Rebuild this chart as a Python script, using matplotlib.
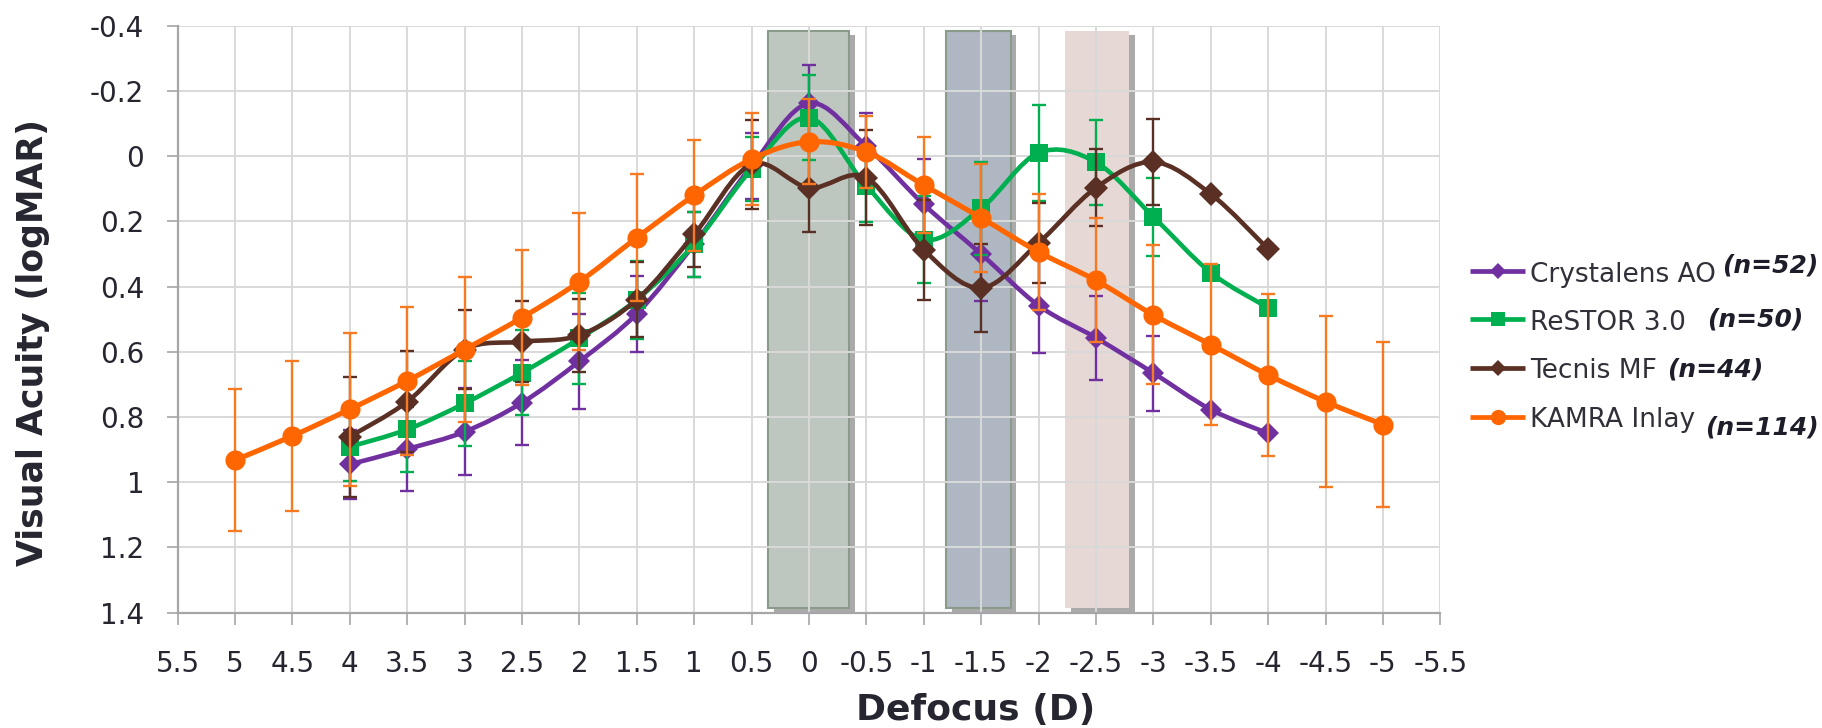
import numpy as np
import matplotlib
matplotlib.use("Agg")
import matplotlib.pyplot as plt
from matplotlib.path import Path
from matplotlib.patches import PathPatch, Rectangle
from matplotlib.lines import Line2D
import matplotlib.patheffects as pe

plt.rcParams['font.family'] = ['DejaVu Sans']
plt.rcParams['axes.unicode_minus'] = False

# ---------------- data ----------------
defocus_iol = [4, 3.5, 3, 2.5, 2, 1.5, 1, 0.5, 0, -0.5, -1, -1.5, -2, -2.5, -3, -3.5, -4]
defocus_kamra = [5, 4.5, 4, 3.5, 3, 2.5, 2, 1.5, 1, 0.5, 0, -0.5, -1, -1.5, -2, -2.5, -3, -3.5, -4, -4.5, -5]

crystalens = [0.945, 0.898, 0.845, 0.756, 0.629, 0.483, 0.27, 0.03, -0.162, -0.03, 0.148, 0.30, 0.458, 0.557, 0.665, 0.777, 0.85]
crystalens_sd = [0.105, 0.13, 0.133, 0.13, 0.145, 0.117, 0.10, 0.10, 0.118, 0.103, 0.14, 0.143, 0.146, 0.129, 0.115, 0, 0]

restor = [0.891, 0.838, 0.758, 0.664, 0.559, 0.44, 0.27, 0.04, -0.118, 0.091, 0.256, 0.16, -0.01, 0.019, 0.186, 0.357, 0.465]
restor_sd = [0.105, 0.13, 0.131, 0.13, 0.14, 0.12, 0.10, 0.098, 0.13, 0.11, 0.134, 0.142, 0.148, 0.13, 0.12, 0, 0]

tecnis = [0.86, 0.753, 0.593, 0.569, 0.549, 0.44, 0.24, 0.025, 0.097, 0.066, 0.287, 0.404, 0.266, 0.097, 0.018, 0.116, 0.285]
tecnis_sd = [0.184, 0.155, 0.12, 0.125, 0.112, 0.114, 0.10, 0.137, 0.136, 0.145, 0.153, 0.135, 0.122, 0.118, 0.133, 0, 0]

kamra = [0.932, 0.858, 0.776, 0.689, 0.593, 0.495, 0.385, 0.25, 0.12, 0.009, -0.044, -0.013, 0.089, 0.189, 0.294, 0.381, 0.487, 0.578, 0.671, 0.753, 0.823]
kamra_sd = [0.218, 0.23, 0.235, 0.227, 0.222, 0.207, 0.21, 0.195, 0.17, 0.142, 0.13, 0.11, 0.147, 0.165, 0.178, 0.19, 0.213, 0.247, 0.248, 0.263, 0.253]

series_names = ['Crystalens AO', 'ReSTOR 3.0', 'Tecnis MF', 'KAMRA Inlay']
series_n = ['(n=52)', '(n=50)', '(n=44)', '(n=114)']

x_ticks = [5.5, 5, 4.5, 4, 3.5, 3, 2.5, 2, 1.5, 1, 0.5, 0, -0.5, -1, -1.5, -2, -2.5, -3, -3.5, -4, -4.5, -5, -5.5]
x_tick_labels = ['5.5', '5', '4.5', '4', '3.5', '3', '2.5', '2', '1.5', '1', '0.5', '0', '-0.5', '-1',
                 '-1.5', '-2', '-2.5', '-3', '-3.5', '-4', '-4.5', '-5', '-5.5']
y_ticks = [-0.4, -0.2, 0, 0.2, 0.4, 0.6, 0.8, 1.0, 1.2, 1.4]
y_tick_labels = ['-0.4', '-0.2', '0', '0.2', '0.4', '0.6', '0.8', '1', '1.2', '1.4']

# shaded focus bands (defocus range)
band_left = [0.355, -1.195, -2.23]
band_right = [-0.349, -1.759, -2.788]
band_top = -0.383
band_bottom = 1.387

# ---------------- style ----------------
W, H = 1822, 728
fig = plt.figure(figsize=(W / 100, H / 100), dpi=100)
ax = fig.add_axes([177.7 / W, 1 - 612.7 / H, (1440.3 - 177.7) / W, (612.7 - 25.7) / H])

ax.set_xlim(5.5, -5.5)
ax.set_ylim(1.4, -0.4)

ax.set_axisbelow(True)
ax.grid(True, color='#D9D9D9', linewidth=1.4)

for sp in ['top', 'right']:
    ax.spines[sp].set_visible(False)
for sp in ['left', 'bottom']:
    ax.spines[sp].set_color('#A6A6A6')
    ax.spines[sp].set_linewidth(1.6)

ax.set_xticks(x_ticks)
ax.set_xticklabels(x_tick_labels)
ax.set_yticks(y_ticks)
ax.set_yticklabels(y_tick_labels)
ax.tick_params(axis='x', direction='out', length=8.5, width=1.2, color='#A6A6A6',
               labelsize=20, labelcolor='#262630', pad=18)
ax.tick_params(axis='y', direction='out', length=8, width=1.2, color='#A6A6A6',
               labelsize=20, labelcolor='#262630', pad=16)

band_faces = ['#BEC6C0', '#AEB7C2', '#E6D8D5']
band_edges = ['#8A9B8C', '#8A9B8C', 'none']
for l, r, fc, ec in zip(band_left, band_right, band_faces, band_edges):
    rect = Rectangle((min(l, r), band_top), abs(l - r), band_bottom - band_top,
                     facecolor=fc, edgecolor=ec, linewidth=1.5, zorder=0.2)
    rect.set_path_effects([pe.SimplePatchShadow(offset=(4, -3), shadow_rgbFace='#444444', alpha=0.45),
                           pe.Normal()])
    ax.add_patch(rect)


def smooth_path(xs, ys):
    pts = np.column_stack([np.asarray(xs, float), np.asarray(ys, float)])
    n = len(pts)
    verts = [pts[0]]
    codes = [Path.MOVETO]
    for i in range(n - 1):
        p0 = pts[i - 1] if i > 0 else pts[i]
        p1 = pts[i]
        p2 = pts[i + 1]
        p3 = pts[i + 2] if i + 2 < n else pts[i + 1]
        c1 = p1 + (p2 - p0) / 6.0
        c2 = p2 - (p3 - p1) / 6.0
        verts += [c1, c2, p2]
        codes += [Path.CURVE4] * 3
    return Path(verts, codes)


colors = ['#7030A0', '#00B050', '#5A3024', '#FF6600']
err_colors = ['#7030A0', '#00B050', '#5A3024', '#F77A22']
markers = ['D', 's', 'D', 'o']
marker_sizes = [11.5, 12.5, 12.0, 14.5]
leg_marker_sizes = [8, 10, 8.5, 11]
line_widths = [3.3, 3.3, 3.3, 3.7]
xs_all = [defocus_iol, defocus_iol, defocus_iol, defocus_kamra]
ys_all = [crystalens, restor, tecnis, kamra]
sd_all = [crystalens_sd, restor_sd, tecnis_sd, kamra_sd]

for k in range(4):
    xs, ys, sd = xs_all[k], ys_all[k], sd_all[k]
    z = 3 + k
    xa = np.asarray(xs, float)
    ya = np.asarray(ys, float)
    sa = np.asarray(sd, float)
    m = sa > 0
    ax.errorbar(xa[m], ya[m], yerr=sa[m], fmt='none', ecolor=err_colors[k], elinewidth=1.7,
                capsize=4.8, capthick=1.7, zorder=z)
    ax.add_patch(PathPatch(smooth_path(xs, ys), fill=False, edgecolor=colors[k], linewidth=line_widths[k],
                           capstyle='round', joinstyle='round', zorder=z + 0.1))
    ax.plot(xs, ys, linestyle='none', marker=markers[k], markersize=marker_sizes[k], color=colors[k],
            markeredgewidth=0, zorder=z + 0.2)

# ---------------- legend (right side) ----------------
row_center = [271, 319, 368, 417]
name_baseline = [282, 330, 378, 427]
n_left = [1722, 1707, 1667, 1705]
n_baseline = [273, 327, 376, 434]
for k in range(4):
    yc = 1 - row_center[k] / H
    fig.add_artist(Line2D([1470 / W, 1525 / W], [yc, yc], transform=fig.transFigure,
                          color=colors[k], lw=3.4, solid_capstyle='butt'))
    fig.add_artist(Line2D([1497.5 / W], [yc], transform=fig.transFigure, linestyle='none',
                          marker=markers[k], markersize=leg_marker_sizes[k], color=colors[k],
                          markeredgewidth=0))
    fig.text(1530 / W, 1 - name_baseline[k] / H, series_names[k], ha='left', va='baseline',
             fontsize=19, color='#303038')
    fig.text(n_left[k] / W, 1 - n_baseline[k] / H, series_n[k], ha='left', va='baseline',
             fontsize=18, fontweight='bold', fontstyle='italic', color='#1E1E2A')

fig.text(33 / W, 1 - 342 / H, 'Visual Acuity (logMAR)', rotation=90, ha='center', va='center',
         fontsize=25, fontweight='bold', color='#262630')
fig.text(976 / W, 1 - 720 / H, 'Defocus (D)', ha='center', va='baseline',
         fontsize=26, fontweight='bold', color='#262630')

fig.savefig('out.png', dpi=100)
